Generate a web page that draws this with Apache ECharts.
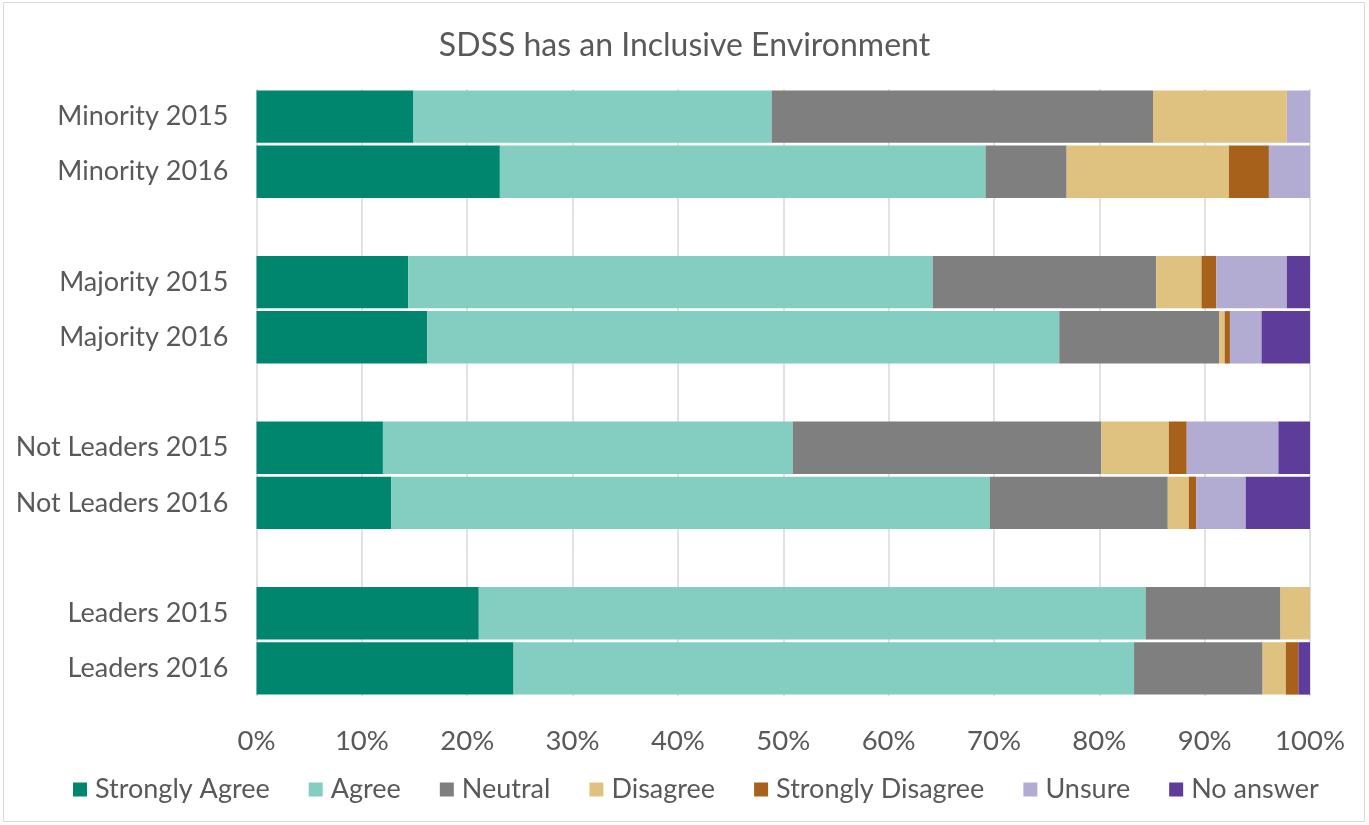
<!DOCTYPE html>
<html>
<head>
<meta charset="utf-8">
<script src="https://cdn.jsdelivr.net/npm/echarts@6/dist/echarts.min.js"></script>
<style>
html,body{margin:0;padding:0;background:#fff;}
#frame{position:absolute;left:3px;top:2px;width:1362px;height:820px;border:1px solid #d9d9d9;box-sizing:border-box;}
#chart{position:absolute;left:0;top:0;width:1369px;height:825px;}
</style>
</head>
<body>
<div id="frame"></div>
<div id="chart"></div>
<script>
const categories = ['Minority 2015','Minority 2016',' ','Majority 2015','Majority 2016','  ','Not Leaders 2015','Not Leaders 2016','   ','Leaders 2015','Leaders 2016'];
const seriesNames = ['Strongly Agree','Agree','Neutral','Disagree','Strongly Disagree','Unsure','No answer'];
const stronglyAgree    = [14.9, 23.1, '-', 14.4, 16.2, '-', 12.0, 12.8, '-', 21.1, 24.4];
const agree            = [34.0, 46.1, '-', 49.8, 60.0, '-', 38.9, 56.8, '-', 63.3, 58.9];
const neutral          = [36.2,  7.7, '-', 21.2, 15.2, '-', 29.3, 16.9, '-', 12.8, 12.2];
const disagree         = [12.7, 15.4, '-',  4.3,  0.5, '-',  6.4,  2.0, '-',  2.8,  2.2];
const stronglyDisagree = [ 0.0,  3.8, '-',  1.4,  0.5, '-',  1.7,  0.7, '-',  0.0,  1.2];
const unsure           = [ 2.2,  3.9, '-',  6.7,  3.0, '-',  8.7,  4.7, '-',  0.0,  0.0];
const noAnswer         = [ 0.0,  0.0, '-',  2.2,  4.6, '-',  3.0,  6.1, '-',  0.0,  1.1];
const xTicks = [0,10,20,30,40,50,60,70,80,90,100];

const colors = ['#00856F','#83CEC1','#7F7F7F','#E0C280','#A8611A','#B2ABD2','#5E3C99'];
const values = [stronglyAgree, agree, neutral, disagree, stronglyDisagree, unsure, noAnswer];
const FONT = 'Lato';

const chart = echarts.init(document.getElementById('chart'), null, {renderer:'canvas'});
chart.setOption({
  backgroundColor: 'transparent',
  animation: false,
  title: {
    text: 'SDSS has an Inclusive Environment',
    left: 'center', top: 25,
    textStyle: {fontFamily: FONT, fontSize: 32, fontWeight: 'normal', color: '#595959'}
  },
  legend: {
    data: seriesNames,
    left: 68, top: 771,
    itemWidth: 14, itemHeight: 14, itemGap: 39,
    icon: 'rect',
    textStyle: {fontFamily: FONT, fontSize: 27, color: '#595959', padding:[0,0,0,3]}
  },
  grid: {left: 256.5, right: 59, top: 89, height: 607, containLabel: false},
  xAxis: {
    type: 'value', min: 0, max: 100, interval: 10,
    axisLine: {show: false}, axisTick: {show: false},
    axisLabel: {formatter: '{value}%', fontFamily: FONT, fontSize: 27.5, color: '#595959', margin: 31},
    splitLine: {show: true, lineStyle: {color: '#D9D9D9', width: 1.5}}
  },
  yAxis: {
    type: 'category', data: categories, inverse: true,
    axisLine: {show: false}, axisTick: {show: false},
    axisLabel: {fontFamily: FONT, fontSize: 27, color: '#595959', margin: 28}
  },
  series: seriesNames.map((n, i) => ({
    name: n, type: 'bar', stack: 'total',
    barCategoryGap: '5%',
    data: values[i],
    itemStyle: {color: colors[i]},
    emphasis: {disabled: true}
  }))
});
</script>
</body>
</html>
